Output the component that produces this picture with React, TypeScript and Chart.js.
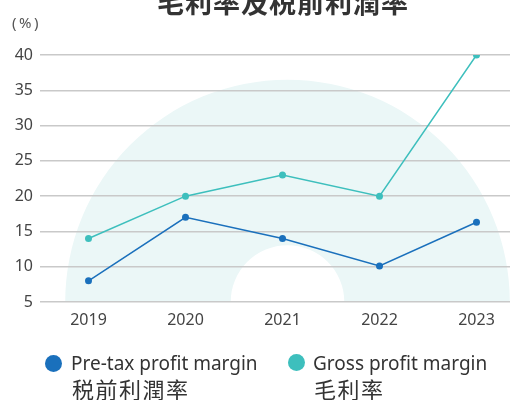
import React, { useEffect, useRef } from "react";
import { Chart, registerables } from "chart.js";

Chart.register(...registerables);

const TITLE = "毛利率及税前利潤率";
const UNIT_LABEL = "(%)";
const YEARS = ["2019", "2020", "2021", "2022", "2023"];
const PRETAX_MARGIN = [8, 17, 14, 10.1, 16.3];
const GROSS_MARGIN = [14, 20, 23, 20, 40];
const SERIES_EN = ["Pre-tax profit margin", "Gross profit margin"];
const SERIES_ZH = ["税前利潤率", "毛利率"];
const SERIES_COLORS = ["#1a70bc", "#3dbfbd"];
const Y_MIN = 5;
const Y_MAX = 40;
const Y_STEP = 5;

const LATIN = "'Noto Sans', 'Open Sans', sans-serif";
const CJK = "'Noto Sans CJK TC', 'Noto Sans CJK SC', sans-serif";

const archPlugin = {
  id: "archBackground",
  beforeDraw(chart: any) {
    const { ctx, chartArea, scales } = chart;
    const h = chartArea.bottom - chartArea.top;
    const cx = scales.x.getPixelForValue(2) + 5;
    const cy = chartArea.bottom;
    const R = h * 0.9;
    const r = h * 0.23;
    ctx.save();
    ctx.beginPath();
    ctx.rect(chartArea.left, chartArea.top, chartArea.right - chartArea.left, h);
    ctx.clip();
    ctx.beginPath();
    ctx.arc(cx, cy, R, Math.PI, 2 * Math.PI);
    ctx.arc(cx, cy, r, 2 * Math.PI, Math.PI, true);
    ctx.closePath();
    ctx.fillStyle = "#ebf7f7";
    ctx.fill();
    ctx.restore();
  },
};

export default function App() {
  const canvasRef = useRef<HTMLCanvasElement | null>(null);

  useEffect(() => {
    if (!canvasRef.current) return;
    const chart = new Chart(canvasRef.current, {
      type: "line",
      data: {
        labels: YEARS,
        datasets: [
          {
            label: SERIES_EN[0],
            data: PRETAX_MARGIN,
            borderColor: SERIES_COLORS[0],
            backgroundColor: SERIES_COLORS[0],
            borderWidth: 1.5,
            pointRadius: 3.5,
            pointBorderWidth: 0,
            tension: 0,
          },
          {
            label: SERIES_EN[1],
            data: GROSS_MARGIN,
            borderColor: SERIES_COLORS[1],
            backgroundColor: SERIES_COLORS[1],
            borderWidth: 1.5,
            pointRadius: 3.5,
            pointBorderWidth: 0,
            tension: 0,
          },
        ],
      },
      options: {
        responsive: false,
        animation: false,
        layout: { padding: { top: 55, bottom: 68, left: 0, right: 0 } },
        plugins: {
          legend: { display: false },
          tooltip: { enabled: false },
          title: { display: false },
        },
        scales: {
          x: {
            type: "category",
            offset: true,
            grid: { display: false, drawTicks: false },
            border: { display: false },
            ticks: {
              color: "#444",
              font: { family: LATIN, size: 16 },
              padding: 9,
              maxRotation: 0,
            },
            afterFit(scale: any) {
              scale.height = 30;
            },
          },
          y: {
            min: Y_MIN,
            max: Y_MAX,
            grid: { color: "#c9c9c9", lineWidth: 1.5, drawTicks: false },
            border: { display: false },
            ticks: {
              stepSize: Y_STEP,
              color: "#444",
              font: { family: LATIN, size: 16 },
              padding: 7,
            },
            afterFit(scale: any) {
              scale.width = 40;
            },
          },
        },
      },
      plugins: [archPlugin],
    });
    return () => chart.destroy();
  }, []);

  const legendPos = [
    { dot: [45, 355], text: 71 },
    { dot: [288, 354], text: 313 },
  ];

  return (
    <div
      style={{
        position: "absolute",
        left: 0,
        top: 0,
        width: 510,
        height: 400,
        overflow: "hidden",
        background: "#fff",
      }}
    >
      <canvas
        ref={canvasRef}
        width={529}
        height={400}
        style={{ position: "absolute", left: 0, top: 0 }}
      />
      <div
        style={{
          position: "absolute",
          left: 157,
          top: -12,
          fontFamily: CJK,
          fontWeight: 700,
          fontSize: 27,
          lineHeight: "27px",
          letterSpacing: 1,
          color: "#333",
          whiteSpace: "nowrap",
        }}
      >
        {TITLE}
      </div>
      <div
        style={{
          position: "absolute",
          left: 12,
          top: 14,
          fontFamily: LATIN,
          fontSize: 15,
          lineHeight: "17px",
          letterSpacing: 2.5,
          color: "#555",
        }}
      >
        {UNIT_LABEL}
      </div>
      {SERIES_EN.map((en, i) => (
        <React.Fragment key={en}>
          <div
            style={{
              position: "absolute",
              left: legendPos[i].dot[0],
              top: legendPos[i].dot[1],
              width: 17,
              height: 17,
              borderRadius: "50%",
              background: SERIES_COLORS[i],
            }}
          />
          <div
            style={{
              position: "absolute",
              left: legendPos[i].text,
              top: 352,
              fontFamily: LATIN,
              fontSize: 19,
              lineHeight: "22px",
              color: "#333",
              whiteSpace: "nowrap",
            }}
          >
            {en}
          </div>
          <div
            style={{
              position: "absolute",
              left: legendPos[i].text + 1,
              top: 377,
              fontFamily: CJK,
              fontSize: 22,
              lineHeight: "22px",
              letterSpacing: 1.5,
              color: "#333",
              whiteSpace: "nowrap",
            }}
          >
            {SERIES_ZH[i]}
          </div>
        </React.Fragment>
      ))}
    </div>
  );
}
